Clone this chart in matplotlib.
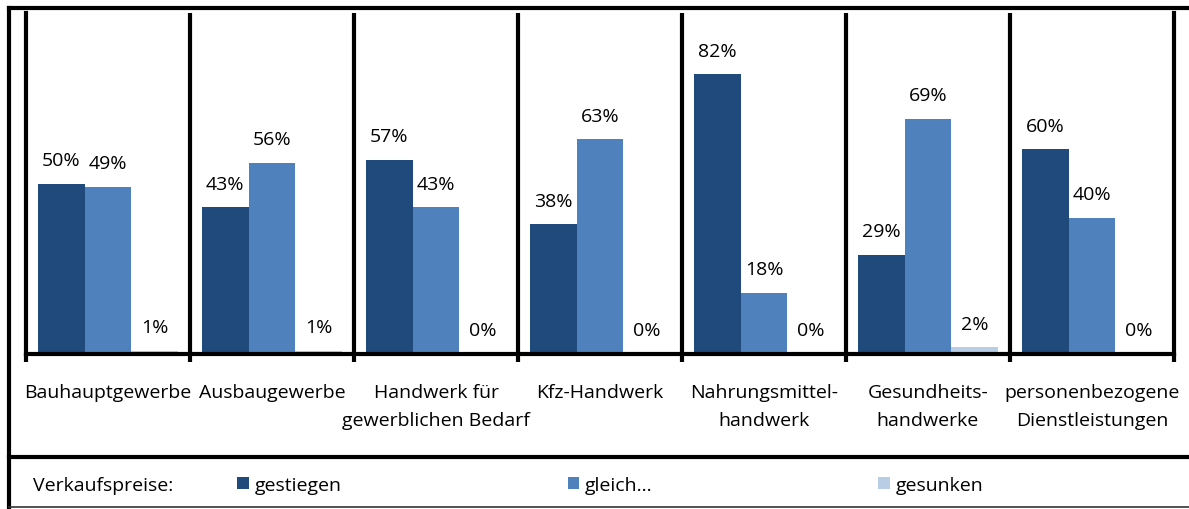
import numpy as np
import matplotlib
matplotlib.use("Agg")
import matplotlib.pyplot as plt
from matplotlib.lines import Line2D

plt.rcParams["font.family"] = ["Open Sans", "DejaVu Sans"]

# data
branches = ["Bauhauptgewerbe", "Ausbaugewerbe", "Handwerk für\ngewerblichen Bedarf",
            "Kfz-Handwerk", "Nahrungsmittel-\nhandwerk", "Gesundheits-\nhandwerke",
            "personenbezogene\nDienstleistungen"]
gestiegen = [50, 43, 57, 38, 82, 29, 60]
gleich = [49, 56, 43, 63, 18, 69, 40]
gesunken = [1, 1, 0, 0, 0, 2, 0]
series_names = ["gestiegen", "gleich...", "gesunken"]
colors = ["#214A7C", "#4F81BD", "#B9CDE5"]

W, H = 1189, 510
fs = 14
fig = plt.figure(figsize=(W / 100, H / 100), dpi=100)
ax = fig.add_axes([26 / W, (H - 355) / H, (1174 - 26) / W, (355 - 14) / H])

x = np.arange(len(branches))
bw = 0.286
bars = []
for k, vals in enumerate([gestiegen, gleich, gesunken]):
    b = ax.bar(x + (k - 1) * bw, vals, bw, color=colors[k], label=series_names[k])
    bars.append(b)
    for xi, v in zip(x + (k - 1) * bw, vals):
        ax.annotate(f"{v}%", (xi, v), xytext=(0, 17), textcoords="offset points",
                    ha="center", va="center", fontsize=fs)

ax.set_xlim(-0.5, len(branches) - 0.5)
ax.set_ylim(0, 100)
ax.set_yticks([])

# group separators
for b in np.arange(0.5, len(branches) - 0.5):
    ax.axvline(b, color="black", lw=3)
for s in ["left", "right", "bottom"]:
    ax.spines[s].set_linewidth(3)
ax.spines["top"].set_visible(False)

ax.set_xticks(np.arange(-0.5, len(branches)), [])
ax.tick_params(axis="x", which="major", length=6, width=3, direction="out")
ax.set_xticks(x, branches, minor=True)
ax.tick_params(axis="x", which="minor", length=0, pad=21, labelsize=fs)
for t in ax.get_xticklabels(minor=True):
    t.set_linespacing(1.7)

# legend area
fig.text(33 / W, (H - 486) / H, "Verkaufspreise:", fontsize=fs, va="center")
fig.legend(handles=bars, labels=series_names, ncol=3, loc="center left",
           bbox_to_anchor=(220 / W, (H - 486) / H), frameon=False, fontsize=fs,
           handlelength=0.6, handleheight=0.6, handletextpad=0.3, columnspacing=11.6)

# outer frame
fig.add_artist(Line2D([9 / W, 9 / W], [1 / H, (H - 9) / H], color="black", lw=3))
fig.add_artist(Line2D([9 / W, 1], [(H - 9) / H, (H - 9) / H], color="black", lw=3))
fig.add_artist(Line2D([9 / W, 1], [(H - 458) / H, (H - 458) / H], color="black", lw=3))
fig.add_artist(Line2D([9 / W, 1], [(H - 508) / H, (H - 508) / H], color="#333333", lw=1.2))

fig.savefig("out.png", dpi=100)
